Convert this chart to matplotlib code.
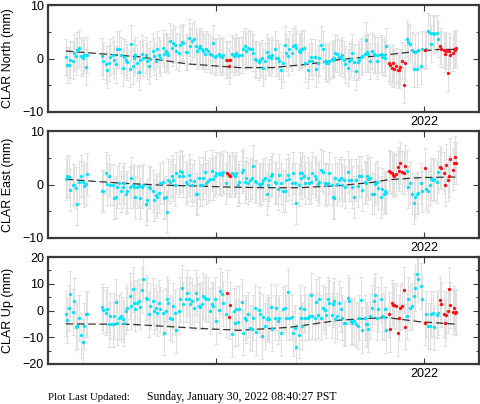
import matplotlib
matplotlib.use('Agg')
import matplotlib.pyplot as plt
from matplotlib.ticker import FixedLocator, MultipleLocator
import numpy as np

plt.rcParams['font.family'] = ['Liberation Sans', 'DejaVu Sans']

# observation epochs, days since 2021-01-01
days = [51, 52, 54, 55, 57, 58, 60, 61, 63, 64, 66, 67, 69, 70,
        83,
        84, 86, 87, 89, 90, 92, 93, 95, 96, 98, 99, 101, 102, 104, 105, 107, 108, 110, 111, 112,
        113, 115, 116, 118, 119, 121, 122, 124, 125, 127, 128, 130, 131, 133, 134, 136, 137, 139, 140, 141,
        142, 144, 145, 147, 148, 150, 151, 153, 154, 156, 157, 159, 160, 162, 163, 165, 166, 168, 169, 170,
        171, 173, 174, 176, 177, 179, 180, 182, 183, 185, 186, 188, 189, 191, 192, 194, 195, 197, 198, 199,
        200, 202, 203, 205, 206, 208, 209, 211, 212, 214, 215, 217, 218, 220, 221, 223, 224, 226, 227, 228,
        229, 231, 232, 234, 235, 237, 238, 240, 241, 243, 244, 246, 247, 249, 250, 252, 253, 255, 256, 257,
        258, 260, 261, 263, 264, 266, 267, 269, 270, 272, 273, 275, 276, 278, 279, 281, 282, 284, 285, 286,
        287, 289, 290, 292, 293, 295, 296, 298, 299, 301, 302, 304, 305, 307, 308, 310, 311, 313, 314, 315,
        316, 318, 319, 321, 322, 324, 325, 327, 328, 330, 331, 332,
        334, 335, 337, 338, 339, 340, 342, 343, 344, 346, 347, 348,
        350, 351, 353, 354, 356, 357, 359, 360, 362, 363,
        366,
        367, 368, 370, 371, 373, 374, 376, 377,
        379, 380, 382, 383, 384, 386, 387, 388, 390, 391, 392, 393]

# day ranges drawn in red
red_spans = [(192, 195), (334, 348), (366, 366), (379, 393)]

north = [0.3, -1.2, -1.2, -0.2, -0.4, 1.1, 0.4, 1.5, 1.9, 0.4, 0.1, 0.6, -1.6, 0.7,
         0.4, -0.4, -1.1, -2.1, -0.8, 0.3, 0.6, -0.2, -1.1, 1.7, 1.7, 0.7, -1.7, 0.3, -0.2, -0.7, -1.9, 2.8, -1.4, 0.1,
         0.7, -0.8, -2.5, -0.2, 0.9, 0.1, 0.7, -0.5, -1.4, -0.1, 1.4, 0.4, -0.5, 1.8, 0.7, 0.1, 2.0, 0.9, 1.4, 1.1,
         0.7, 3.2, 2.0, 2.9, 2.5, 1.4, 1.1, 2.6, 3.1, 2.9, 1.2, 1.2, 3.9, 2.3, 3.2, 3.6, 2.3, 1.4, 2.0, 2.3,
         1.7, 1.4, 0.9, 1.8, 1.4, 0.9, 0.7, 2.9, 0.3, 0.4, 0.9, 0.4, 0.3, 0.6, -0.2, -0.3, -1.4, -0.2, 0.9, 0.4,
         0.6, 1.1, 0.4, 0.7,
         0.7, 1.7, 2.3, 1.4, 2.0, 1.7, 1.8, 1.1, -0.1, -0.2, -0.7, -0.3, 0.1, -1.7, -0.5, 1.2, 0.3, 0.4, 0.1, 0.6,
         1.7, 0.1, 0.1, -0.5, -2.1, -0.9, 2.6, 1.1, 0.4, 1.7, 1.1, 2.3, 2.6, 2.0, 1.4, 1.2, 1.7, 1.8, 2.0, -0.9,
         -2.1, -0.5, 0.3, -0.5, 0.3, -1.9, -0.9, 0.1, 2.6, 1.7, -0.5, -0.8, -0.9, -0.5, -0.1, -0.2, 0.1, 1.1, 0.9, 0.3,
         0.1, 0.6, -0.2, -1.1, -1.7, -0.5, -0.1, 1.1, -0.7, -2.4, -0.7, -0.2, 0.3, 0.4, 0.9, 3.4, 1.2, 0.9, -0.5, 1.4,
         0.9, 0.7, -0.5, 0.6, 0.9, 0.3, 0.7, 0.1, 2.3,
         -0.8, -1.3, -1.7, -0.9, -1.9, -1.4, -2.2, -2.1, -1.6, -0.4, -5.0, -0.8,
         3.7, 3.1, 2.8, 1.6, -1.9, 1.2, -1.9, 1.6, -1.4, 1.7,
         1.5,
         1.7, 5.1, 4.8, 2.8, 4.8, 4.5, 4.7, 3.7,
         2.3, 1.8, 1.6, 0.9, 1.4, -2.7, 1.4, 0.6, 1.1, 1.7, 1.6, 2.0]

east = [1.0, 1.6, 1.4, -1.0, 0.0, -0.1, -0.7, -3.6, 0.5, 1.6, 0.5, -0.3, 0.1, 2.0,
        -1.2, -1.3, 2.2, 0.1, 1.6, 0.0, 0.0, -2.6, -2.3, -0.5, 0.2, -1.3, -0.5, 0.2, -1.7, -1.3, -0.4, 1.3, -0.1, -0.4,
        -2.3, -0.4, -0.3, -2.6, -0.4, -0.1, -3.6, -2.9, -0.4, -0.7, -1.2, -2.9, -2.0, -2.3, -1.5, 0.2, 0.5, -2.6, -2.3, -5.1,
        0.8, 0.5, 1.6, 0.8, -0.1, 2.1, 1.5, 2.5, 2.4, 1.6, 0.5, 0.1, 1.8, 0.8, -0.1, 0.7, -1.7, -1.8, 1.2, -0.1,
        -0.1, 1.2, 2.4, 0.2, 0.7, 1.0, 2.6, 1.0, 1.5, 2.1, 2.0, 2.2, 1.8, 2.4, 0.2, 2.1, 1.8, 1.5, 2.2, 1.8,
        1.5, 2.2, -0.1, 0.5, 2.4, 2.7, 0.5, 1.2, 0.3, 0.8, 1.2, 3.5, 0.7, 0.5, 0.1, -0.1, 0.2, 0.8, 1.2, -1.8,
        -0.1, 0.8, 1.5, 1.9, 0.5, 0.2, -0.9, 1.8, 0.2, -1.2, -1.3, 0.8, 1.8, 1.0, 0.2, 2.1, 0.2, -3.5, -0.1, 2.1,
        1.2, 2.2, 1.6, 0.3, 1.2, 0.2, 0.5, 2.2, 1.5, 1.0, 0.1, 0.5, 2.7, 2.4, 0.2, -0.1, 0.2, 2.1, -0.1, -2.3,
        -2.6, 1.2, 0.1, 0.8, 1.2,
        -0.1, 0.8, -0.4, 2.4, 0.8, 0.8, -0.4, -2.3, 0.8, -0.3, 1.5, 1.5, -1.0, 0.5, 0.3, 1.6, 1.0, 1.2, -1.7, -1.7,
        0.1, 0.5, -0.7, -2.3, -0.9, -1.7, -1.3, -1.5,
        2.6, 2.4, 2.1, 1.8, 1.6, 2.0, 3.2, 2.6, 4.0, 2.4, 2.2, 3.5,
        2.6, -0.4, 0.3, -1.7, -3.4, -2.3, -1.7, -1.5, 0.2, -1.3,
        3.0,
        -0.9, -1.3, -0.1, 1.0, 0.8, 1.0, 0.5, 2.4,
        3.3, 3.0, 2.2, -0.1, 3.6, 0.8, 1.5, 4.7, 2.8, 4.0, 5.1, 4.0]

up = [-1.2, -3.7, 0.9, 6.1, -0.6, 3.5, -6.2, -5.8, -2.8, -9.3, -11.6, -5.8, -1.3, -1.3,
      1.3, 0.2, -0.8, 0.4, -5.2, -2.1, -5.2, -2.1, 3.2, -4.5, -2.7, -2.1, -3.3, -4.8, -0.2, 1.1, 5.4, 1.7, 7.9, 2.9,
      0.7, 2.9, 3.4, 1.4, 7.7, 11.9, 4.8, 4.2, -1.4, 1.7, 3.6, -0.2, 1.1, -1.1, 2.9, 0.4, -0.8, -8.3, -0.2, 4.2,
      2.9, -2.7, -3.3, 1.7, -0.8, -7.3, -0.2, 4.2, 8.5, 2.3, 4.2, 6.7, 4.2, 2.3, 3.6, 1.1, 6.7, 4.2, 1.7, 1.4,
      2.3, 5.4, 4.8, 4.2, 4.2, -0.2, 2.3, 1.7, 4.2, -3.9, 0.2, 7.3, 6.0, 2.7, -1.4, 6.7, -2.3, 2.1, -8.9, -0.2,
      -4.8, 0.7, -4.3, 0.7, 3.2, -8.3, -2.7, -3.6, -1.4, -6.4, -6.8, -2.7, 1.1, -8.0, 0.2, -1.4, -9.5, -2.3, -5.8, -3.3,
      -2.7, -3.3, 1.4, -6.8, -2.7, 1.1, -3.9, -2.7, -8.5, 0.4, 1.1, -2.7, 6.9, -2.7, -2.3, -8.5, -6.4, -13.5, -9.3, 1.1,
      -2.7, -5.8, 0.4, -2.7, -2.7, -2.1, 5.7, -2.1, -2.7, 3.2, -1.8, 4.2, -2.7, 1.1, 0.2, -1.8, 4.2, 2.9, -1.8, 2.3,
      3.6, -3.3, -2.1, 2.7, 0.4,
      -2.7, -4.5, -4.8, 4.8, 3.6, -3.9, -4.5, -3.9, -5.2, -5.8, -2.7, 3.9, -7.3, -2.7, -5.2, -5.2, -7.0, -2.1, 1.1, 3.6,
      5.7, -2.7, 0.4, 4.2, -2.1, -2.4, 0.4, -7.3,
      -1.4, -7.0, 2.9, 1.9, 1.9, 1.7, -8.5, -2.7, 1.1, 1.7, 7.7, -6.0,
      -2.1, 4.2, 1.1, 1.7, 5.4, 8.5, 13.5, 11.9, 9.2, 4.2,
      -4.5,
      -1.3, -5.8, -5.8, -1.3, -1.1, -6.3, -1.7, -0.8,
      3.9, 2.3, -1.3, -4.6, -1.7, 0.0, 7.9, 2.1, -0.4, 0.8, -0.8, -0.4]

# formal 1-sigma errors (mm)
north_err = 3.4
east_err = 3.9
up_err = 8.5

# dashed model curves
north_model_days = [51, 116, 157, 203, 232, 262, 291, 320, 349, 378, 393]
north_model = [1.4, 0.3, -1.0, -1.7, -1.7, -1.1, -0.2, 0.4, 1.1, 1.7, 1.7]
east_model_days = [51, 75, 104, 133, 168, 197, 227, 256, 291, 320, 334, 363, 393]
east_model = [1.0, 0.6, 0.2, -0.1, -0.3, -0.5, -0.6, -0.6, -0.2, 0.4, 0.9, 1.3, 1.4]
up_model_days = [51, 110, 168, 203, 247, 291, 332, 361, 393]
up_model = [-5.0, -5.2, -6.7, -7.4, -6.3, -3.6, -2.6, -4.2, -5.1]

assert len(days) == len(north) == len(east) == len(up), (len(days), len(north), len(east), len(up))


def to_year(d):
    return 2021 + np.asarray(d, dtype=float) / 365.25


t = to_year(days)
d = np.asarray(days)
red = np.zeros(len(days), dtype=bool)
for a, b in red_spans:
    red |= (d >= a) & (d <= b)

panels = [
    ('CLAR North (mm)', north, north_err, north_model_days, north_model, (-10, 10), 10),
    ('CLAR East (mm)', east, east_err, east_model_days, east_model, (-10, 10), 10),
    ('CLAR Up (mm)', up, up_err, up_model_days, up_model, (-20, 20), 10),
]

W, H = 481, 404
fig = plt.figure(figsize=(W / 100, H / 100), dpi=100)
tops = [5, 131, 257]
edge = '#3a3a3a'

for (label, vals, err, mdays, mvals, ylim, step), top in zip(panels, tops):
    ax = fig.add_axes([48 / W, 1 - (top + 107) / H, 431 / W, 107 / H])
    vals = np.asarray(vals)
    ax.errorbar(t, vals, yerr=err, fmt='none', ecolor='#e0e0e0', elinewidth=0.8,
                capsize=1.6, capthick=0.8, zorder=1)
    ax.plot(to_year(mdays), mvals, color='#333333', lw=0.9, ls=(0, (6, 3)), zorder=2)
    ax.plot(t[~red], vals[~red], 'o', color='#00e5ff', ms=2.4, mew=0, zorder=3)
    ax.plot(t[red], vals[red], 'o', color='#ff1010', ms=2.4, mew=0, zorder=3)

    ax.set_xlim(2021.097, 2022.131)
    ax.set_ylim(*ylim)
    ax.yaxis.set_major_locator(MultipleLocator(step))
    ax.yaxis.set_minor_locator(MultipleLocator(5))
    ax.xaxis.set_major_locator(FixedLocator([2021.5, 2022.0]))
    ax.set_xticklabels(['', '2022'])
    ax.tick_params(axis='both', which='both', direction='in', top=True, right=True,
                   color=edge, labelsize=9, pad=3)
    ax.tick_params(which='major', length=4, width=0.8)
    ax.tick_params(which='minor', length=2.5, width=0.8)
    for s in ax.spines.values():
        s.set_linewidth(1.6)
        s.set_color(edge)
    ax.set_ylabel(label, fontsize=9)
    ax.yaxis.set_label_coords(-0.078, 0.5)

fig.text(48 / W, 1 - 400 / H, 'Plot Last Updated:', family='Liberation Serif', fontsize=7.8,
         va='baseline')
fig.text(147 / W, 1 - 400 / H, 'Sunday, January 30, 2022 08:40:27 PST', family='Liberation Serif',
         fontsize=8.5, va='baseline')

fig.savefig('out.png', dpi=100)
